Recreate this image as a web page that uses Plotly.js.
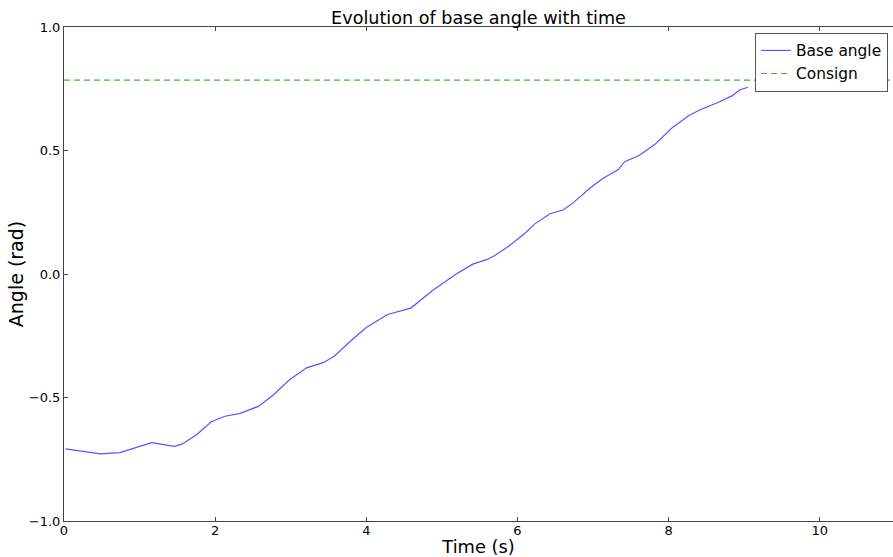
<!DOCTYPE html>
<html>
<head>
<meta charset="utf-8">
<script src="https://cdn.plot.ly/plotly-3.0.1.min.js"></script>
<style>html,body{margin:0;padding:0;background:#fff;}#chart{width:893px;height:557px;}</style>
</head>
<body>
<div id="chart"></div>
<script>
const timeS = [0.02, 0.48, 0.74, 1.16, 1.46, 1.56, 1.75, 1.95, 2.13, 2.33, 2.57, 2.77, 2.98, 3.21, 3.43, 3.58, 3.80, 4.00, 4.14, 4.28, 4.59, 4.885, 5.19, 5.41, 5.60, 5.70, 5.86, 6.10, 6.23, 6.43, 6.61, 6.74, 6.97, 7.13, 7.33, 7.42, 7.61, 7.82, 8.04, 8.26, 8.41, 8.50, 8.63, 8.84, 8.94, 9.05];
const baseAngle = [-0.708, -0.728, -0.723, -0.683, -0.698, -0.689, -0.652, -0.598, -0.576, -0.564, -0.536, -0.490, -0.429, -0.380, -0.359, -0.332, -0.269, -0.217, -0.190, -0.164, -0.138, -0.065, 0.000, 0.040, 0.059, 0.075, 0.107, 0.165, 0.203, 0.244, 0.260, 0.289, 0.350, 0.387, 0.422, 0.455, 0.480, 0.525, 0.590, 0.640, 0.664, 0.675, 0.691, 0.721, 0.745, 0.756];
const consignTime = [0, 11];
const consignValue = [0.785, 0.785];
const xTicks = [0, 2, 4, 6, 8, 10];
const yTicks = [-1.0, -0.5, 0.0, 0.5, 1.0];
const yTickText = ['\u22121.0', '\u22120.5', '0.0', '0.5', '1.0'];

const font = 'DejaVu Sans, sans-serif';
const traces = [
  {x: timeS, y: baseAngle, type: 'scatter', mode: 'lines', name: 'Base angle',
   line: {color: 'rgb(85,85,255)', width: 1.2}},
  {x: consignTime, y: consignValue, type: 'scatter', mode: 'lines', name: 'Consign',
   line: {color: 'rgb(70,170,70)', width: 1.1, dash: '6px,4px'}}
];
const layout = {
  width: 893, height: 557,
  margin: {l: 64, r: 0, t: 27, b: 36},
  paper_bgcolor: '#fff', plot_bgcolor: '#fff',
  font: {family: font, color: '#000'},
  title: {text: 'Evolution of base angle with time', font: {family: font, size: 17.6, color: '#000'},
          x: 0.5, xref: 'paper', y: 0.979, yanchor: 'top'},
  xaxis: {range: [0, 10.97], tickvals: xTicks, ticktext: xTicks.map(String),
          ticks: 'inside', ticklen: 4, tickcolor: '#444', showline: true, linecolor: '#444', linewidth: 1,
          mirror: 'ticks', showgrid: false, zeroline: false, ticklabelstandoff: -3,
          tickfont: {family: font, size: 13, color: '#000'},
          title: {text: 'Time (s)', font: {family: font, size: 17.8, color: '#000'}, standoff: 2}},
  yaxis: {range: [-1, 1], tickvals: yTicks, ticktext: yTickText,
          ticks: 'inside', ticklen: 4, tickcolor: '#444', showline: true, linecolor: '#444', linewidth: 1,
          showgrid: false, zeroline: false,
          tickfont: {family: font, size: 13, color: '#000'},
          title: {text: 'Angle (rad)', font: {family: font, size: 19, color: '#000'}, standoff: 0}},
  showlegend: true,
  legend: {x: 0.994, xanchor: 'right', y: 0.988, yanchor: 'top',
           bgcolor: '#fff', bordercolor: '#555', borderwidth: 1,
           font: {family: font, size: 15.4, color: '#000'}, tracegroupgap: 0}
};
Plotly.newPlot('chart', traces, layout, {displayModeBar: false, staticPlot: true});
</script>
</body>
</html>
